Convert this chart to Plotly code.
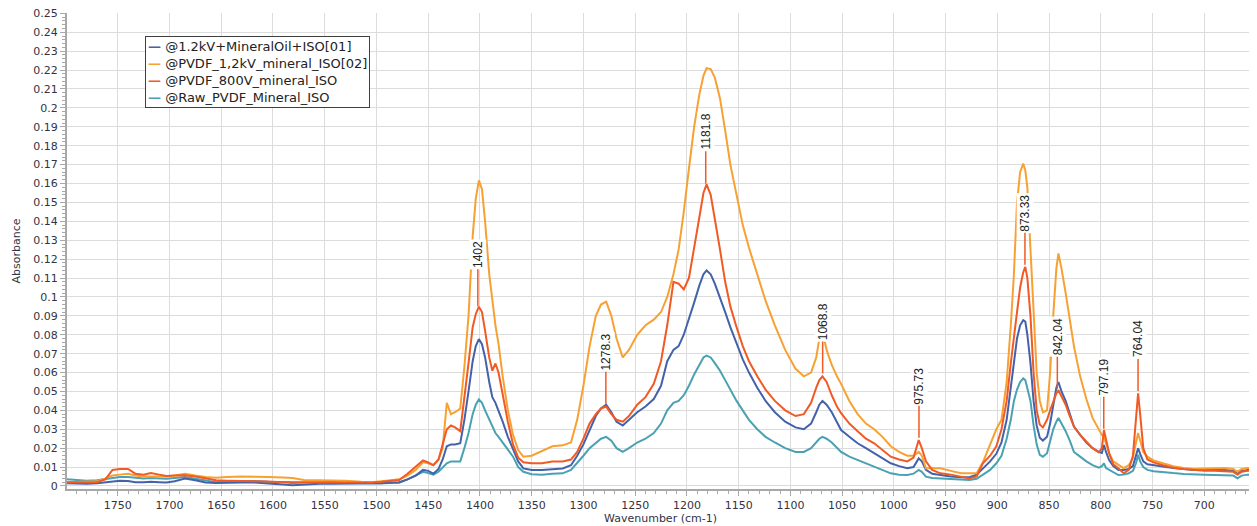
import numpy as np
import plotly.graph_objects as go

# Wavenumber grid (cm-1)
wavenumber = [1799, 1790, 1780, 1770, 1762, 1755, 1748, 1740, 1733, 1725, 1718, 1710, 1703, 1695, 1685, 1675, 1665, 1655, 1645, 1630,
              1618, 1605, 1590, 1581, 1570, 1555, 1544, 1530, 1515, 1505, 1495, 1485, 1478, 1470, 1462, 1455, 1450, 1445, 1440, 1436,
              1432, 1428, 1424, 1419, 1415, 1411, 1407, 1404, 1401, 1398, 1395, 1391, 1388, 1385, 1382, 1378, 1373, 1368, 1363, 1358,
              1350, 1340, 1330, 1320, 1312, 1306, 1300, 1294, 1288, 1283, 1278, 1273, 1268, 1262, 1256, 1248, 1240, 1232, 1225, 1219,
              1213, 1208, 1203, 1198, 1193, 1188, 1184, 1181, 1177, 1173, 1168, 1163, 1158, 1152, 1146, 1140, 1132, 1124, 1115, 1105,
              1095, 1087, 1080, 1075, 1072, 1069, 1065, 1060, 1055, 1051, 1043, 1035, 1027, 1019, 1011, 1003, 995, 987, 981, 978,
              976, 973, 969, 963, 955, 945, 935, 927, 920, 914, 907, 901, 896, 891, 887, 884, 881, 878, 875, 873,
              871, 868, 865, 862, 859, 856, 852, 849, 846, 843, 841, 838, 834, 830, 826, 820, 814, 808, 802, 799,
              797, 795, 792, 788, 783, 778, 773, 769, 766, 764, 762, 759, 755, 749, 740, 730, 720, 710, 700, 690,
              680, 672, 668, 664, 658, 652]

s_1p2kV_01 = [.0015, .0012, .0012, .0015, .002, .0025, .0028, .0026, .002, .002, .0022, .002, .0018, .0025, .0039, .003, .0018, .0016, .0018, .0018,
              .0018, .0015, .0008, .0004, .0008, .0012, .0012, .0012, .0012, .0012, .0015, .0018, .002, .0035, .0055, .0085, .008, .0065, .009, .014,
              .021, .022, .022, .0226, .035, .050, .066, .074, .0777, .075, .068, .055, .047, .044, .040, .034, .026, .019, .013, .0093,
              .0085, .0085, .009, .0093, .011, .016, .022, .030, .037, .041, .043, .039, .034, .032, .035, .039, .042, .046, .053, .066,
              .072, .074, .080, .088, .097, .106, .112, .114, .112, .107, .100, .092, .084, .075, .067, .060, .052, .045, .039, .034,
              .031, .030, .033, .039, .043, .045, .043, .039, .034, .0296, .026, .0226, .020, .0173, .015, .012, .0105, .0094, .010, .013,
              .0146, .013, .0085, .0065, .0058, .005, .0046, .0046, .006, .009, .013, .017, .023, .035, .052, .065, .078, .085, .0877, .087,
              .080, .065, .045, .032, .0255, .024, .026, .033, .043, .052, .055, .050, .045, .038, .0314, .027, .023, .020, .018, .0175,
              .0217, .018, .0137, .0105, .0085, .0085, .009, .0105, .016, .020, .017, .013, .0115, .011, .010, .0095, .009, .0085, .0085, .0085,
              .0085, .008, .0065, .008, .0085, .0085]

s_pvdf_1p2kV_02 = [.002, .0022, .0022, .0025, .004, .0055, .006, .0065, .0055, .005, .005, .0048, .005, .0055, .0065, .0055, .0047, .0044, .0048, .005,
                   .005, .0048, .0045, .0042, .0032, .003, .003, .0028, .0022, .002, .0025, .003, .0035, .0055, .0085, .0125, .012, .011, .014, .020,
                   .044, .038, .039, .041, .063, .090, .132, .152, .1617, .157, .140, .112, .098, .085, .075, .058, .040, .027, .019, .0155,
                   .016, .0185, .021, .0215, .023, .035, .053, .074, .090, .096, .0975, .090, .078, .068, .072, .080, .085, .088, .092, .100,
                   .112, .125, .145, .168, .190, .207, .217, .221, .2205, .216, .205, .188, .170, .154, .138, .126, .112, .098, .085, .072,
                   .062, .058, .060, .068, .078, .082, .072, .064, .058, .054, .045, .038, .033, .030, .026, .021, .018, .016, .016, .017,
                   .018, .016, .0094, .0094, .0094, .008, .0067, .0067, .0067, .0125, .022, .030, .035, .055, .085, .112, .150, .166, .1705, .167,
                   .158, .125, .090, .060, .045, .039, .040, .060, .090, .115, .123, .115, .102, .088, .074, .058, .046, .036, .030, .027,
                   .026, .022, .0173, .013, .011, .0094, .011, .015, .023, .028, .024, .018, .0155, .0135, .012, .0105, .0095, .009, .0092, .0095,
                   .0095, .009, .0075, .009, .0095, .0095]

s_pvdf_800V = [.002, .0018, .0018, .002, .0035, .0085, .009, .009, .0065, .006, .0068, .006, .0053, .0055, .0057, .005, .004, .003, .0028, .0027,
               .0026, .0024, .002, .0016, .0018, .002, .002, .0019, .0018, .0018, .0022, .0028, .0032, .0065, .010, .0135, .0125, .011, .014, .022,
               .030, .032, .031, .029, .0455, .065, .084, .091, .0948, .092, .082, .068, .061, .0648, .060, .048, .034, .022, .015, .0125,
               .012, .012, .013, .013, .014, .018, .025, .033, .038, .041, .042, .038, .035, .034, .037, .043, .047, .054, .066, .085,
               .108, .107, .104, .110, .125, .142, .155, .1595, .154, .140, .125, .108, .095, .084, .074, .066, .058, .051, .045, .040,
               .037, .038, .044, .052, .056, .058, .055, .048, .042, .0385, .033, .029, .025, .0226, .019, .0155, .014, .013, .015, .021,
               .0243, .020, .013, .0085, .0067, .006, .005, .004, .005, .012, .016, .021, .030, .045, .065, .080, .092, .105, .113, .1159,
               .110, .090, .060, .040, .0325, .031, .035, .040, .045, .049, .0507, .047, .043, .037, .0314, .027, .0235, .020, .0178, .020,
               .0296, .024, .0173, .0115, .0094, .0067, .0085, .016, .035, .049, .038, .020, .014, .0125, .011, .0097, .009, .0085, .008, .008,
               .0078, .0075, .006, .0075, .008, .0082]

s_raw_pvdf = [.0035, .003, .0028, .003, .0038, .0045, .0048, .0047, .0042, .004, .0042, .0038, .0038, .0042, .0047, .0038, .003, .002, .0025, .0026,
              .0026, .0022, .002, .0018, .0018, .0018, .0018, .0016, .0014, .0014, .0015, .0016, .0017, .0035, .0055, .0075, .0068, .006, .0075, .0095,
              .012, .013, .013, .013, .020, .028, .038, .043, .0458, .044, .040, .035, .031, .028, .026, .023, .019, .0155, .010, .0075,
              .0062, .006, .0065, .0067, .0085, .012, .016, .020, .023, .025, .026, .024, .020, .018, .020, .023, .025, .028, .033, .040,
              .044, .045, .048, .053, .059, .064, .068, .069, .068, .065, .061, .056, .051, .045, .040, .035, .030, .026, .023, .020,
              .018, .018, .020, .023, .025, .026, .025, .023, .020, .018, .0155, .0137, .012, .0102, .0085, .0067, .006, .0058, .0065, .0078,
              .0085, .0075, .0049, .0042, .004, .0035, .0033, .0032, .0038, .006, .0085, .012, .016, .025, .035, .045, .051, .055, .0569, .056,
              .052, .045, .032, .022, .0165, .0155, .0173, .024, .030, .034, .036, .033, .029, .024, .018, .0155, .013, .011, .0097, .0105,
              .012, .0095, .0085, .007, .0058, .006, .0067, .008, .012, .0165, .013, .010, .0085, .0078, .0072, .0068, .0064, .006, .006, .0058,
              .0058, .0055, .004, .0055, .006, .006]

series_names = ["@1.2kV+MineralOil+ISO[01]", "@PVDF_1,2kV_mineral_ISO[02]", "@PVDF_800V_mineral_ISO", "@Raw_PVDF_Mineral_ISO"]
series_values = [s_1p2kV_01, s_pvdf_1p2kV_02, s_pvdf_800V, s_raw_pvdf]
series_colors = ["#4462aa", "#f7a133", "#f15a24", "#4aa1b1"]

peak_labels = [1402, 1278.3, 1181.8, 1068.8, 975.73, 873.33, 842.04, 797.19, 764.04]

fig = go.Figure()
draw_order = [3, 0, 1, 2]
for i in draw_order:
    fig.add_trace(go.Scatter(x=wavenumber, y=series_values[i], mode="lines", name=series_names[i],
                             line=dict(color=series_colors[i], width=2), showlegend=False))

# peak labels on the 800V curve
wn_asc = np.array(wavenumber[::-1], dtype=float)
red_asc = np.array(s_pvdf_800V[::-1], dtype=float)
for p in peak_labels:
    yv = float(np.interp(p, wn_asc, red_asc))
    fig.add_annotation(x=p, y=yv, xref="x", yref="y", text=f"{p:g}", textangle=-90,
                       showarrow=True, arrowhead=0, arrowwidth=1.5, arrowcolor="#f15a24",
                       ax=0, ay=-55, standoff=3, bgcolor="white", borderpad=1,
                       font=dict(family="Liberation Sans, Arial, sans-serif", size=12, color="#222222"))

# legend box (one line per series, coloured dash + name)
legend_lines = [f"<span style='color:{c}'><b>—</b></span> {n}" for n, c in zip(series_names, series_colors)]
fig.add_annotation(xref="paper", yref="paper", x=0.0655, y=0.9517, xanchor="left", yanchor="top",
                   text="<br>".join(legend_lines), align="left", showarrow=False,
                   bgcolor="white", bordercolor="#404040", borderwidth=1, borderpad=2,
                   font=dict(family="DejaVu Sans", size=13, color="#222222"))

axis_common = dict(showgrid=True, gridcolor="#dcdcdc", gridwidth=1, zeroline=False,
                   showline=True, linecolor="#a8a8a8", linewidth=2,
                   ticks="outside", tickcolor="#a8a8a8", ticklen=5, automargin=False,
                   ticklabeloverflow="allow",
                   tickfont=dict(family="DejaVu Sans", size=11, color="#333344"))

fig.update_xaxes(range=[1799, 652], tickmode="linear", tick0=0, dtick=50,
                 minor=dict(tick0=0, dtick=10, ticks="outside", ticklen=3, tickcolor="#a8a8a8", showgrid=False),
                 title=dict(text="Wavenumber (cm-1)", font=dict(family="DejaVu Sans", size=11, color="#333344"), standoff=2),
                 **axis_common)
fig.update_yaxes(range=[-0.0016, 0.2502], tickmode="linear", tick0=0, dtick=0.01,
                 minor=dict(tick0=0, dtick=0.002, ticks="outside", ticklen=3, tickcolor="#a8a8a8", showgrid=False),
                 title=dict(text="Absorbance", font=dict(family="DejaVu Sans", size=11, color="#333344"), standoff=10),
                 **axis_common)

# page body has an 8px margin: size the figure so the plot area lands where the reference has it
fig.update_layout(width=1249, height=518, margin=dict(l=59, r=3, t=5, b=37),
                  plot_bgcolor="white", paper_bgcolor="white",
                  font=dict(family="DejaVu Sans", size=11, color="#222222"),
                  showlegend=False)

fig.write_html("out.html")
